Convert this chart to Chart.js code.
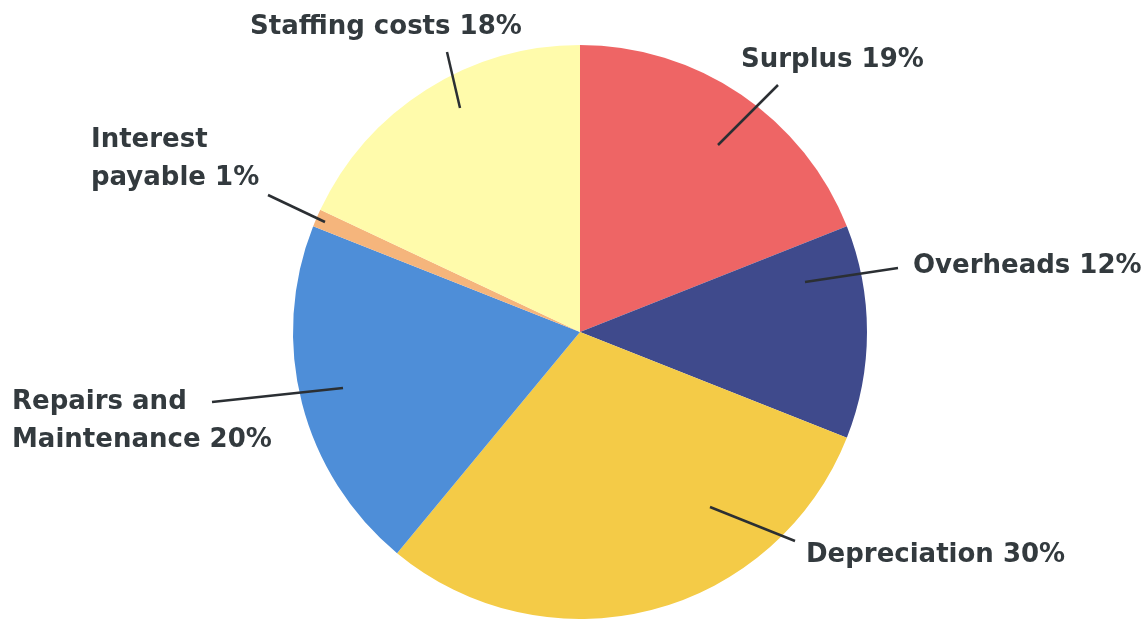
<!DOCTYPE html>
<html>
<head>
<meta charset="utf-8">
<script src="https://cdn.jsdelivr.net/npm/chart.js@4.4.0/dist/chart.umd.min.js"></script>
<style>
  html, body { margin: 0; padding: 0; background: #fff; }
  #wrap { width: 1146px; height: 619px; }
</style>
</head>
<body>
<div id="wrap"><canvas id="pie"></canvas></div>
<script>
// Данные диаграммы (по часовой стрелке от 12 часов)
const categories = ["Surplus", "Overheads", "Depreciation", "Repairs and Maintenance", "Interest payable", "Staffing costs"];
const shares = [19, 12, 30, 20, 1, 18];
const sliceColors = ["#ee6565", "#3f4a8c", "#f4cb47", "#4e8ed8", "#f5b57c", "#fffbab"];

// Подписи: строки текста, позиция текста и концы выносной линии (смещения от центра круга)
const labelLines = [
  ["Surplus 19%"],
  ["Overheads 12%"],
  ["Depreciation 30%"],
  ["Repairs and", "Maintenance 20%"],
  ["Interest", "payable 1%"],
  ["Staffing costs 18%"]
];
const labelPos = [
  [741, 60], [913, 266], [806, 555], [12, 402], [91, 140], [250, 27]
];
const leaderFrom = [
  [138, -187], [225, -50], [130, 175], [-237, 56], [-255, -110], [-120, -224]
];
const leaderTo = [
  [198, -247], [318, -64], [215, 209], [-368, 70], [-312, -137], [-133, -280]
];

const labelPlugin = {
  id: "calloutLabels",
  afterDatasetsDraw(chart) {
    const ctx = chart.ctx;
    const arc = chart.getDatasetMeta(0).data[0];
    const cx = arc.x, cy = arc.y;
    ctx.save();
    ctx.strokeStyle = "#2b2f33";
    ctx.lineWidth = 2.5;
    leaderFrom.forEach((p, i) => {
      ctx.beginPath();
      ctx.moveTo(cx + p[0], cy + p[1]);
      ctx.lineTo(cx + leaderTo[i][0], cy + leaderTo[i][1]);
      ctx.stroke();
    });
    ctx.fillStyle = "#333a3e";
    ctx.font = "bold 26px 'DejaVu Sans', sans-serif";
    ctx.textBaseline = "middle";
    ctx.textAlign = "left";
    labelLines.forEach((lines, i) => {
      lines.forEach((t, j) => {
        ctx.fillText(t, labelPos[i][0], labelPos[i][1] + j * 38);
      });
    });
    ctx.restore();
  }
};

new Chart(document.getElementById("pie"), {
  type: "pie",
  data: {
    labels: categories,
    datasets: [{
      data: shares,
      backgroundColor: sliceColors,
      borderWidth: 0
    }]
  },
  options: {
    responsive: true,
    maintainAspectRatio: false,
    animation: false,
    layout: { padding: { top: 45, bottom: 0, left: 293, right: 279 } },
    plugins: {
      legend: { display: false },
      tooltip: { enabled: false }
    }
  },
  plugins: [labelPlugin]
});
</script>
</body>
</html>
